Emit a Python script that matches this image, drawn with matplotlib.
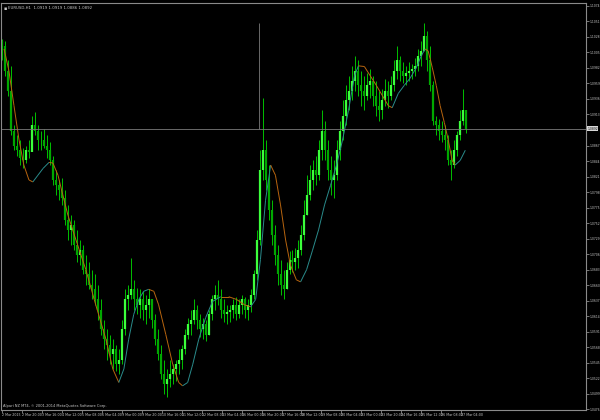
import numpy as np
import matplotlib
matplotlib.use("Agg")
import matplotlib.pyplot as plt
from matplotlib.collections import LineCollection

# EURUSD H1 bars, prices in points (1.0000 = 10000), one entry per drawn bar
highs = [11025, 11022, 10993, 10985, 10897, 10882, 10875, 10863, 10867, 10875,
         10911, 10916, 10897, 10889, 10892, 10882, 10872, 10852, 10830, 10816,
         10819, 10801, 10779, 10764, 10757, 10742, 10727, 10720, 10705, 10695,
         10683, 10676, 10661, 10639, 10609, 10595, 10587, 10580, 10572, 10565,
         10609, 10654, 10661, 10701, 10668, 10656, 10654, 10651, 10646, 10654,
         10639, 10617, 10595, 10572, 10550, 10536, 10550, 10543, 10550, 10565,
         10572, 10595, 10612, 10624, 10639, 10631, 10617, 10612, 10609, 10624,
         10646, 10661, 10668, 10654, 10639, 10631, 10631, 10639, 10642, 10639,
         10646, 10642, 10639, 10654, 10683, 10742, 10860, 10938, 10875, 10838,
         10786, 10749, 10720, 10698, 10683, 10695, 10710, 10712, 10715, 10727,
         10749, 10786, 10823, 10838, 10845, 10852, 10875, 10919, 10904, 10875,
         10852, 10845, 10875, 10904, 10934, 10956, 10970, 10985, 11000, 10993,
         10978, 10970, 10975, 10981, 10970, 10963, 10948, 10951, 10966, 10963,
         10970, 10993, 11015, 11000, 10990, 10985, 10990, 10988, 10996, 11010,
         11022, 11049, 11037, 11015, 10963, 10911, 10907, 10904, 10897, 10882,
         10860, 10875, 10889, 10919, 10951, 10919]
lows = [10993, 10970, 10941, 10882, 10860, 10852, 10838, 10833, 10841, 10848,
        10860, 10882, 10860, 10860, 10863, 10848, 10838, 10808, 10794, 10786,
        10779, 10749, 10727, 10720, 10712, 10695, 10690, 10676, 10661, 10654,
        10639, 10631, 10609, 10587, 10565, 10550, 10543, 10536, 10533, 10528,
        10543, 10587, 10624, 10639, 10624, 10617, 10612, 10609, 10602, 10612,
        10597, 10572, 10550, 10521, 10499, 10494, 10509, 10513, 10518, 10528,
        10536, 10558, 10580, 10587, 10602, 10595, 10583, 10580, 10577, 10587,
        10609, 10624, 10631, 10612, 10606, 10602, 10606, 10612, 10609, 10612,
        10617, 10612, 10609, 10621, 10639, 10668, 10720, 10816, 10801, 10757,
        10720, 10690, 10661, 10646, 10639, 10654, 10676, 10680, 10683, 10686,
        10705, 10727, 10764, 10786, 10801, 10808, 10816, 10845, 10845, 10816,
        10794, 10789, 10816, 10845, 10875, 10897, 10919, 10934, 10948, 10941,
        10926, 10919, 10934, 10937, 10926, 10911, 10904, 10907, 10926, 10922,
        10934, 10948, 10966, 10963, 10960, 10956, 10963, 10966, 10970, 10978,
        10985, 11007, 10978, 10948, 10897, 10882, 10875, 10872, 10860, 10838,
        10816, 10833, 10852, 10875, 10897, 10886]
closes = [11015, 10978, 10948, 10889, 10867, 10860, 10848, 10845, 10860, 10857,
          10897, 10889, 10875, 10875, 10867, 10860, 10845, 10816, 10808, 10801,
          10789, 10757, 10742, 10749, 10720, 10705, 10712, 10683, 10676, 10661,
          10654, 10639, 10624, 10595, 10580, 10572, 10558, 10565, 10543, 10550,
          10595, 10639, 10646, 10654, 10639, 10631, 10639, 10624, 10631, 10639,
          10609, 10580, 10558, 10528, 10513, 10521, 10528, 10536, 10543, 10550,
          10565, 10587, 10602, 10609, 10624, 10609, 10595, 10602, 10587, 10617,
          10639, 10646, 10639, 10624, 10617, 10621, 10624, 10631, 10617, 10631,
          10639, 10624, 10631, 10646, 10676, 10727, 10830, 10860, 10816, 10771,
          10735, 10705, 10676, 10661, 10654, 10683, 10698, 10695, 10701, 10712,
          10735, 10764, 10794, 10816, 10830, 10823, 10860, 10889, 10860, 10830,
          10816, 10823, 10860, 10889, 10911, 10934, 10948, 10963, 10978, 10956,
          10948, 10941, 10956, 10963, 10941, 10926, 10919, 10934, 10948, 10941,
          10956, 10978, 10993, 10978, 10970, 10975, 10978, 10981, 10985, 11000,
          11007, 11029, 10993, 10956, 10904, 10897, 10889, 10882, 10875, 10845,
          10838, 10860, 10882, 10904, 10919, 10892]
first_open = 11022

# smoothed moving average (bar position, price in points)
ma_pos = [0.7, 2.3, 4, 5.7, 7.3, 9, 10.3, 12, 13.7, 15.7, 17, 18.7, 20.3, 22,
          24.7, 28, 31.3, 34.7, 37, 39, 40.7, 42.3, 44, 45.7, 47.3, 49, 50.7,
          52.3, 54.7, 57, 59, 60.3, 62, 63.7, 65.7, 68, 70.3, 73, 75.7, 78.3,
          81, 83, 84.7, 86.3, 88, 89.7, 91.3, 93, 94.7, 96.3, 98.3, 99.7,
          101.7, 103.7, 105.7, 107.7, 109.7, 111.7, 113.7, 115.7, 117.7, 119,
          121, 123, 125, 127, 129, 130.3, 132.3, 134.3, 136.3, 138.3, 140,
          141.3, 142.3, 143.7, 145, 146.3, 147.7, 149, 150.3, 151.3, 153, 154.7]
ma_val = [11010, 10978, 10926, 10875, 10838, 10816, 10813, 10823, 10833, 10842,
          10841, 10823, 10794, 10764, 10727, 10683, 10631, 10580, 10536, 10516,
          10536, 10580, 10617, 10639, 10651, 10654, 10651, 10631, 10587, 10543,
          10516, 10511, 10516, 10543, 10580, 10612, 10636, 10643, 10643, 10639,
          10631, 10628, 10639, 10698, 10786, 10838, 10823, 10779, 10727, 10690,
          10668, 10665, 10683, 10712, 10742, 10779, 10808, 10838, 10875, 10919,
          10970, 10985, 10984, 10970, 10956, 10941, 10926, 10923, 10944, 10956,
          10967, 10982, 11000, 11010, 11007, 10982, 10956, 10926, 10901, 10875,
          10845, 10838, 10845, 10860]

price_ticks = [10476, 10499, 10522, 10545, 10568, 10591, 10614, 10637, 10660,
               10683, 10706, 10729, 10752, 10775, 10798, 10821, 10844, 10867,
               10890, 10913, 10936, 10959, 10982, 11005, 11028, 11051, 11074]
date_ticks = [0, 6.67, 13.33, 20, 26.67, 33.33, 40, 46.67, 53.33, 60, 66.67,
              73.33, 80, 86.67, 93.33, 100, 106.67, 113.33, 120, 126.67,
              133.33, 140, 146.67, 153.33]
date_labels = ["2 Mar 2015", "2 Mar 20:00", "3 Mar 16:00", "4 Mar 12:00",
               "5 Mar 08:00", "6 Mar 04:00", "9 Mar 00:00", "9 Mar 20:00",
               "10 Mar 16:00", "11 Mar 12:00", "12 Mar 08:00", "13 Mar 04:00",
               "16 Mar 00:00", "16 Mar 20:00", "17 Mar 16:00", "18 Mar 12:00",
               "19 Mar 08:00", "20 Mar 04:00", "23 Mar 00:00", "23 Mar 20:00",
               "24 Mar 16:00", "25 Mar 12:00", "26 Mar 08:00", "27 Mar 04:00"]
vline_pos = 85.7
vline_top = 11049

symbol = "EURUSD,H1"
footer = "Alpari NZ MT4, \u00a9 2001-2014 MetaQuotes Software Corp."

# colours
bg = "black"
frame_col = "#8a8a8a"
text_col = "#c8c8c8"
up_col = "#3cff3c"
down_col = "#00a800"
wick_col = "#00c000"
ma_up = "#2a8c8c"
ma_down = "#b8650f"

pt = 10000.0
highs = np.array(highs) / pt
lows = np.array(lows) / pt
closes = np.array(closes) / pt
opens = np.r_[first_open / pt, closes[:-1]]
idx = np.arange(len(closes))

fig = plt.figure(figsize=(6, 4.2), dpi=100, facecolor=bg)
ax = fig.add_axes([1 / 600, 10 / 420, 585 / 600, 407 / 420], facecolor=bg)

# wicks and bodies
ax.vlines(idx, lows, highs, color=wick_col, lw=0.7)
up = closes >= opens
ax.vlines(idx[up], opens[up], closes[up], color=up_col, lw=1.6)
ax.vlines(idx[~up], opens[~up], closes[~up], color=down_col, lw=1.6)

# moving average coloured by slope
mx = np.array(ma_pos)
my = np.array(ma_val) / pt
segs = [[(mx[i], my[i]), (mx[i + 1], my[i + 1])] for i in range(len(mx) - 1)]
cols = [ma_up if my[i + 1] > my[i] else ma_down for i in range(len(mx) - 1)]
ax.add_collection(LineCollection(segs, colors=cols, linewidths=0.7))

# current price line and vertical line object
last = closes[-1]
ax.axhline(last, color="#7a7a7a", lw=0.6)
ax.vlines(vline_pos, last, vline_top / pt, color="#7a7a7a", lw=0.6)

ax.set_xlim(-0.33, 195)
ax.set_ylim(1.04752, 1.10781)

for s in ax.spines.values():
    s.set_color(frame_col)
    s.set_linewidth(0.8)

# right price scale; the label under the price box is hidden like in MT4
ax.yaxis.tick_right()
ax.set_yticks(np.array(price_ticks) / pt)
ylabels = []
for v in price_ticks:
    if abs(v / pt - last) < 0.0012:
        ylabels.append("")
    else:
        ylabels.append("%.4f" % (v / pt))
ax.set_yticklabels(ylabels)
ax.tick_params(axis="y", colors=frame_col, labelcolor=text_col, labelsize=2.2,
               length=2, width=0.6, pad=0.4, direction="out")
ax.set_xticks(date_ticks)
ax.set_xticklabels(date_labels)
ax.tick_params(axis="x", colors=frame_col, labelcolor=text_col, labelsize=2.3,
               length=2, width=0.6, pad=0.5, direction="out")
for lab in ax.get_xticklabels():
    lab.set_horizontalalignment("left")

# price box on the right axis
ax.text(1.002, last, "%.4f" % last, transform=ax.get_yaxis_transform(),
        fontsize=2.2, color="black", va="center", ha="left",
        bbox=dict(boxstyle="square,pad=0.15", fc="#d8d8d8", ec="none"))

# header and footer
hdr = "%s  %.4f %.4f %.4f %.4f" % (symbol, opens[-1], highs[-1], lows[-1], last)
ax.text(0.004, 0.993, "\u25aa", transform=ax.transAxes, fontsize=3.5,
        color=text_col, va="top", ha="left")
ax.text(0.012, 0.993, hdr, transform=ax.transAxes, fontsize=2.8,
        color=text_col, va="top", ha="left")
ax.text(0.004, 0.006, footer, transform=ax.transAxes, fontsize=2.6,
        color=text_col, va="bottom", ha="left")

fig.savefig("out.png", dpi=100, facecolor=bg)
